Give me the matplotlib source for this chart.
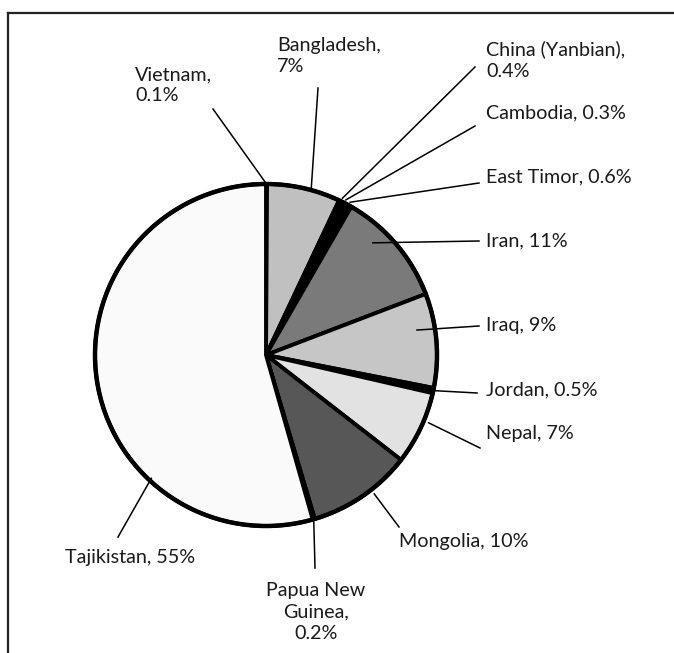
import numpy as np
import matplotlib
matplotlib.use("Agg")
import matplotlib.pyplot as plt
from matplotlib.patches import Circle
from matplotlib.lines import Line2D

plt.rcParams['font.family'] = ['Lato', 'DejaVu Sans']

# ---- data ----
countries = ["Vietnam", "Bangladesh", "China (Yanbian)", "Cambodia", "East Timor",
             "Iran", "Iraq", "Jordan", "Nepal", "Mongolia", "Papua New Guinea", "Tajikistan"]
shares = [0.1, 7, 0.4, 0.3, 0.6, 11, 9, 0.5, 7, 10, 0.2, 55]
label_texts = ["Vietnam,\n0.1%", "Bangladesh,\n7%", "China (Yanbian),\n0.4%", "Cambodia, 0.3%",
               "East Timor, 0.6%", "Iran, 11%", "Iraq, 9%", "Jordan, 0.5%", "Nepal, 7%",
               "Mongolia, 10%", "Papua New\nGuinea,\n0.2%", "Tajikistan, 55%"]
fills = ["#000000", "#c0c0c0", "#000000", "#000000", "#000000", "#7a7a7a",
         "#c6c6c6", "#000000", "#e2e2e2", "#575757", "#000000", "#fafafa"]

# ---- layout (pixel coordinates, y measured from top) ----
W, H = 674, 653
CX, CY, R = 266, 355, 171
# text anchor x, y, ha ; leader end x, y ; anchor fraction within wedge, radius factor
layout = [
    (135, 85, "left", 213, 109, 0.5, 1.0),
    (277, 56, "left", 318, 88, 0.6, 1.0),
    (486, 60, "left", 475, 67, 0.5, 1.02),
    (486, 113, "left", 475, 126, 0.5, 1.02),
    (486, 177, "left", 479, 183, 0.5, 1.02),
    (486, 241, "left", 479, 241, 0.35, 0.906),
    (486, 326, "left", 479, 326, 0.36, 0.895),
    (486, 390, "left", 477, 393, 0.5, 1.0),
    (486, 433, "left", 480, 448, 0.39, 1.03),
    (399, 542, "left", 399, 527, 0.40, 1.03),
    (316, 612, "center", 315, 568, 0.5, 1.0),
    (65, 557, "left", 118, 537, 0.30, 0.985),
]

def Y(yp):
    return H - yp

fig = plt.figure(figsize=(W / 100, H / 100), dpi=100)
ax = fig.add_axes([0, 0, 1, 1])

wedges, _ = ax.pie(shares, colors=fills, startangle=90, counterclock=False,
                   center=(CX, Y(CY)), radius=R,
                   wedgeprops=dict(edgecolor="black", linewidth=2.8))
ax.add_patch(Circle((CX, Y(CY)), R, fill=False, edgecolor="black", lw=3.2, zorder=5))
ax.set_xlim(0, W)
ax.set_ylim(0, H)
ax.axis('off')

# frame (only left and top edges visible), drawn in figure pixels
fig.add_artist(Line2D([8 / W, 8 / W], [0, 1 - 13 / H], color="#222222", lw=1.6,
                      transform=fig.transFigure))
fig.add_artist(Line2D([8 / W, 1.0], [1 - 13 / H, 1 - 13 / H], color="#222222", lw=1.6,
                      transform=fig.transFigure))

for w, txt, (tx, ty, ha, lx, ly, frac, rf) in zip(wedges, label_texts, layout):
    t1, t2 = w.theta1, w.theta2
    ang = np.deg2rad(t2 - frac * (t2 - t1))
    ax0 = CX + rf * R * np.cos(ang)
    ay0 = Y(CY) + rf * R * np.sin(ang)
    ax.plot([ax0, lx], [ay0, Y(ly)], color="black", lw=1.1, zorder=6)
    ax.text(tx, Y(ty), txt, ha=ha, va="center", fontsize=14.2, color="#1a1a1a",
            linespacing=1.3, multialignment=ha)

fig.savefig("out.png", dpi=100)
